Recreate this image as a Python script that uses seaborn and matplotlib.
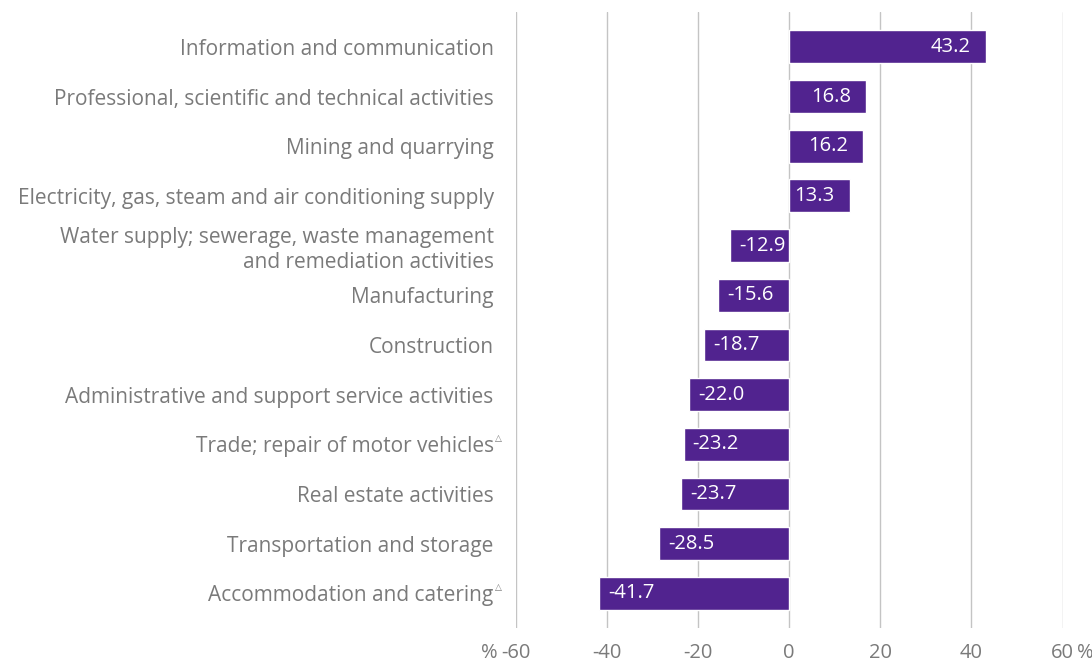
import matplotlib
matplotlib.use("Agg")
import matplotlib.pyplot as plt
import seaborn as sns
import pandas as pd

categories = [
    "Information and communication",
    "Professional, scientific and technical activities",
    "Mining and quarrying",
    "Electricity, gas, steam and air conditioning supply",
    "Water supply; sewerage, waste management\nand remediation activities",
    "Manufacturing",
    "Construction",
    "Administrative and support service activities",
    "Trade; repair of motor vehicles",
    "Real estate activities",
    "Transportation and storage",
    "Accommodation and catering",
]
values = [43.2, 16.8, 16.2, 13.3, -12.9, -15.6, -18.7, -22.0, -23.2, -23.7, -28.5, -41.7]
flagged = ["Trade; repair of motor vehicles", "Accommodation and catering"]
xticks = [-60, -40, -20, 0, 20, 40, 60]

df = pd.DataFrame({"sector": categories, "change": values})

sns.set_theme(style="white")
plt.rcParams["font.family"] = ["Open Sans", "DejaVu Sans"]

bar_color = "#51238f"
text_gray = "#7a7a7a"
fs = 15
xfs = 14.5

fig = plt.figure(figsize=(10.92, 6.69), dpi=100)
ax = fig.add_axes([0.4725, 0.061, 0.5005, 0.921])

sns.barplot(data=df, x="change", y="sector", orient="h", color=bar_color,
            saturation=1, width=0.66, ax=ax, zorder=3)

ax.set_xlim(-60, 60)
ax.set_ylim(11.7, -0.7)
ax.set_xticks(xticks)
ax.set_xticklabels([str(t) for t in xticks])
ax.grid(axis="x", color="#c4c4c4", linewidth=1, zorder=0)
ax.grid(axis="y", visible=False)
for s in ax.spines.values():
    s.set_visible(False)
ax.set_xlabel("")
ax.set_ylabel("")
ax.tick_params(axis="x", length=0, pad=11, labelsize=xfs, labelcolor=text_gray)
ax.tick_params(axis="y", length=0, pad=16, labelsize=fs, labelcolor=text_gray)
for lbl in ax.get_yticklabels():
    lbl.set_linespacing(1.25)

for i, v in enumerate(values):
    if v >= 0:
        ax.annotate(f"{v:.1f}", (v, i), xytext=(-15, 0), textcoords="offset pixels",
                    ha="right", va="center", color="white", fontsize=14.5, zorder=4)
    else:
        ax.annotate(f"{v:.1f}", (v, i), xytext=(9, 0), textcoords="offset pixels",
                    ha="left", va="center", color="white", fontsize=14.5, zorder=4)

fig.canvas.draw()
renderer = fig.canvas.get_renderer()
W, H = fig.bbox.width, fig.bbox.height

# small triangle marks after flagged sector names
for lbl in ax.get_yticklabels():
    if lbl.get_text() in flagged:
        bb = lbl.get_window_extent(renderer)
        fig.text(bb.x1 / W + 0.001, (bb.y1 + 2) / H,
                 "\u25b3", fontsize=6.5, color=text_gray, ha="left", va="top",
                 family=["DejaVu Sans"])

# percent signs on the outer tick labels
xl = ax.get_xticklabels()
ax.annotate("%", xy=(0, 0), xycoords=xl[0], xytext=(-4, 0),
            textcoords="offset pixels", ha="right", va="bottom",
            fontsize=xfs, color=text_gray, annotation_clip=False)
ax.annotate("%", xy=(1, 0), xycoords=xl[-1], xytext=(3, 0),
            textcoords="offset pixels", ha="left", va="bottom",
            fontsize=xfs, color=text_gray, annotation_clip=False)

plt.savefig("out.png", dpi=100)
plt.close()
